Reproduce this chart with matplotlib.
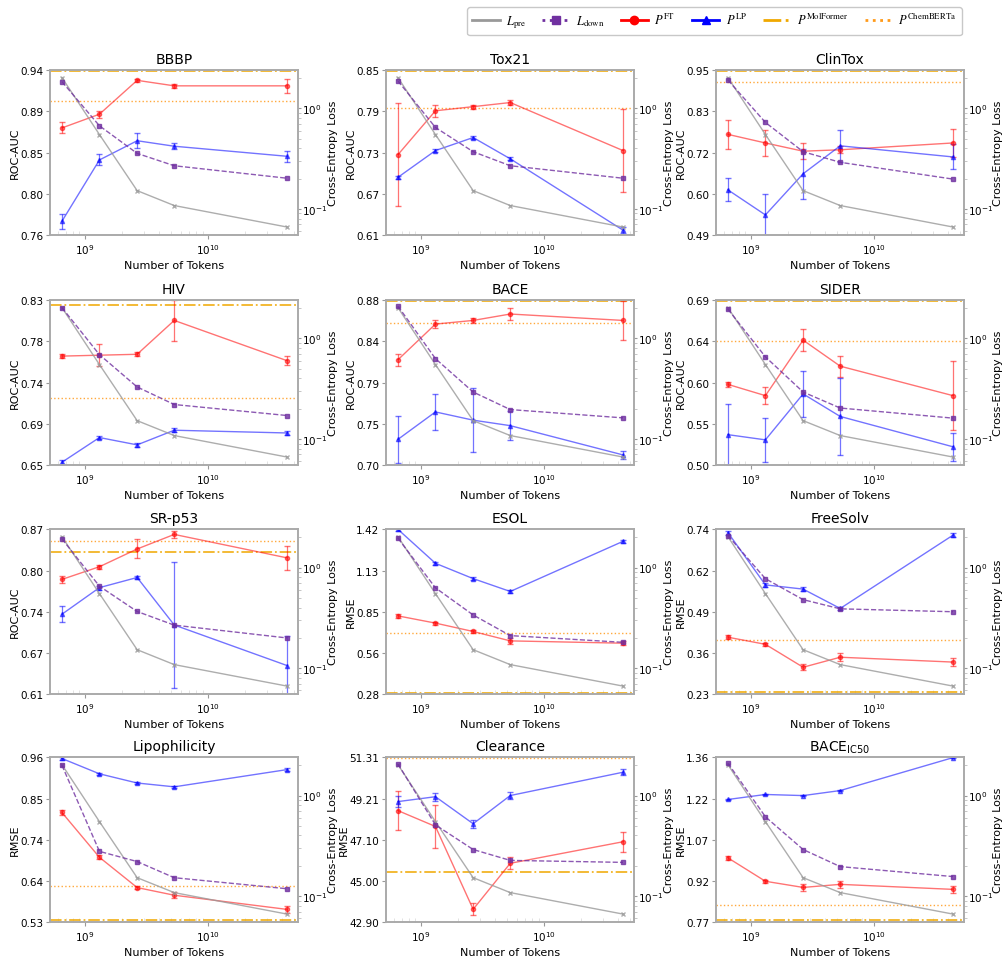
import numpy as np
import matplotlib
matplotlib.use('Agg')
import matplotlib.pyplot as plt
from matplotlib.lines import Line2D
from matplotlib.ticker import FixedLocator, LogLocator, NullFormatter

tokens = [6.5e8, 1.31e9, 2.65e9, 5.3e9, 4.36e10]
l_pre = [2.03, 0.55, 0.152, 0.108, 0.066]

names = ['BBBP', 'Tox21', 'ClinTox', 'HIV', 'BACE', 'SIDER', 'SR-p53', 'ESOL',
         'FreeSolv', 'Lipophilicity', 'Clearance', r'BACE$_{\rm IC50}$']
metric = ['ROC-AUC'] * 7 + ['RMSE'] * 5

tick_labels = [
    ['0.76', '0.80', '0.85', '0.89', '0.94'],
    ['0.61', '0.67', '0.73', '0.79', '0.85'],
    ['0.49', '0.60', '0.72', '0.83', '0.95'],
    ['0.65', '0.69', '0.74', '0.78', '0.83'],
    ['0.70', '0.75', '0.79', '0.84', '0.88'],
    ['0.50', '0.55', '0.60', '0.64', '0.69'],
    ['0.61', '0.67', '0.74', '0.80', '0.87'],
    ['0.28', '0.56', '0.85', '1.13', '1.42'],
    ['0.23', '0.36', '0.49', '0.62', '0.74'],
    ['0.53', '0.64', '0.74', '0.85', '0.96'],
    ['42.90', '45.00', '47.10', '49.21', '51.31'],
    ['0.77', '0.92', '1.07', '1.22', '1.36'],
]

ft = [
    [0.877, 0.892, 0.929, 0.923, 0.923],
    [0.727, 0.791, 0.797, 0.803, 0.733],
    [0.771, 0.747, 0.724, 0.728, 0.747],
    [0.769, 0.770, 0.771, 0.808, 0.764],
    [0.815, 0.854, 0.858, 0.865, 0.858],
    [0.593, 0.580, 0.644, 0.614, 0.580],
    [0.791, 0.811, 0.839, 0.862, 0.825],
    [0.821, 0.771, 0.713, 0.648, 0.632],
    [0.406, 0.384, 0.313, 0.344, 0.329],
    [0.816, 0.699, 0.620, 0.600, 0.563],
    [48.59, 47.78, 43.55, 45.90, 47.00],
    [1.000, 0.916, 0.894, 0.905, 0.887],
]
ft_err = [
    [0.006, 0.004, 0.002, 0.002, 0.008],
    [0.075, 0.009, 0.003, 0.004, 0.060],
    [0.040, 0.037, 0.022, 0.010, 0.038],
    [0.002, 0.012, 0.002, 0.022, 0.005],
    [0.0065, 0.004, 0.003, 0.0067, 0.021],
    [0.003, 0.010, 0.0125, 0.012, 0.040],
    [0.006, 0.003, 0.015, 0.006, 0.019],
    [0.015, 0.010, 0.010, 0.020, 0.015],
    [0.006, 0.005, 0.010, 0.012, 0.012],
    [0.006, 0.005, 0.005, 0.008, 0.010],
    [1.0, 1.1, 0.3, 0.3, 0.5],
    [0.006, 0.006, 0.012, 0.012, 0.012],
]
lp = [
    [0.775, 0.842, 0.863, 0.857, 0.846],
    [0.694, 0.733, 0.752, 0.721, 0.617],
    [0.616, 0.546, 0.661, 0.739, 0.708],
    [0.653, 0.680, 0.672, 0.688, 0.685],
    [0.728, 0.758, 0.749, 0.743, 0.711],
    [0.535, 0.529, 0.582, 0.556, 0.521],
    [0.736, 0.778, 0.794, 0.719, 0.655],
    [1.420, 1.185, 1.079, 0.990, 1.337],
    [0.730, 0.568, 0.555, 0.495, 0.722],
    [0.957, 0.917, 0.893, 0.883, 0.928],
    [49.05, 49.30, 47.92, 49.36, 50.55],
    [1.209, 1.227, 1.223, 1.241, 1.359],
]
lp_err = [
    [0.008, 0.006, 0.008, 0.003, 0.006],
    [0.002, 0.002, 0.002, 0.002, 0.004],
    [0.032, 0.058, 0.070, 0.045, 0.035],
    [0.002, 0.002, 0.002, 0.002, 0.002],
    [0.026, 0.020, 0.035, 0.016, 0.004],
    [0.035, 0.025, 0.027, 0.044, 0.016],
    [0.013, 0.003, 0.003, 0.100, 0.047],
    [0.010, 0.010, 0.010, 0.010, 0.010],
    [0.006, 0.006, 0.006, 0.006, 0.006],
    [0.003, 0.003, 0.003, 0.003, 0.003],
    [0.30, 0.20, 0.20, 0.20, 0.15],
    [0.003, 0.003, 0.003, 0.003, 0.003],
]
l_down = [
    [1.85, 0.672, 0.357, 0.269, 0.202],
    [1.88, 0.647, 0.371, 0.269, 0.202],
    [1.92, 0.726, 0.371, 0.291, 0.198],
    [2.03, 0.690, 0.329, 0.220, 0.171],
    [2.10, 0.630, 0.293, 0.196, 0.162],
    [1.96, 0.656, 0.293, 0.203, 0.161],
    [1.93, 0.652, 0.365, 0.267, 0.199],
    [1.96, 0.628, 0.337, 0.210, 0.180],
    [2.08, 0.774, 0.479, 0.388, 0.363],
    [2.00, 0.278, 0.220, 0.152, 0.118],
    [2.06, 0.510, 0.290, 0.226, 0.216],
    [2.10, 0.614, 0.290, 0.196, 0.156],
]
molformer = [0.9395, 0.8495, 0.949, 0.8245, 0.8795, 0.6895, 0.835, 0.285, 0.236, 0.535, 45.48, 0.776]
chemberta = [0.906, 0.795, 0.918, 0.7228, 0.855, 0.643, 0.852, 0.7015, 0.397, 0.623, 51.28, 0.830]

c_ft = '#ff0000'
c_lp = '#0000ff'
c_down = '#7030a0'
c_pre = '#999999'
c_mf = '#f0a800'
c_cb = '#ff9a1a'

fs = 7.5
fl = 8
fig = plt.figure(figsize=(10.06, 9.62), dpi=100)
lefts = [0.0497, 0.3837, 0.7117]
bottoms = [0.7547, 0.5156, 0.2775, 0.0405]
w, h = 0.2465, 0.1712

for i in range(12):
    r, c = divmod(i, 3)
    ax = fig.add_axes([lefts[c], bottoms[r], w, h])
    ax2 = ax.twinx()

    lo = float(tick_labels[i][0])
    hi = float(tick_labels[i][-1])
    ax.axhline(molformer[i], color=c_mf, ls='-.', lw=1.3, alpha=0.85)
    ax.axhline(chemberta[i], color=c_cb, ls=':', lw=1.0, alpha=0.85)
    ax.errorbar(tokens, ft[i], yerr=ft_err[i], color=c_ft, marker='o', ms=3,
                lw=1, alpha=0.55, capsize=2, elinewidth=0.9)
    ax.errorbar(tokens, lp[i], yerr=lp_err[i], color=c_lp, marker='^', ms=3,
                lw=1, alpha=0.55, capsize=2, elinewidth=0.9)
    ax.set_xscale('log')
    ax.set_xlim(5.2e8, 5.35e10)
    ax.set_ylim(lo, hi)
    ticks = np.linspace(lo, hi, 5)
    ax.yaxis.set_major_locator(FixedLocator(ticks))
    ax.set_yticklabels(tick_labels[i])
    ax.set_xticks([1e9, 1e10])
    ax.set_xticklabels([r'$10^{9}$', r'$10^{10}$'])
    ax.tick_params(axis='both', labelsize=fs, color='#999999', length=3, pad=2)
    ax.tick_params(axis='x', which='minor', color='#dddddd', direction='in', length=3)
    ax.set_xlabel('Number of Tokens', fontsize=fl, labelpad=3)
    ax.set_ylabel(metric[i], fontsize=fl, labelpad=0)
    ax.set_title(names[i], fontsize=10, pad=5)

    ax2.plot(tokens, l_pre, color=c_pre, lw=1, marker='x', ms=2.5, alpha=0.8)
    ax2.plot(tokens, l_down[i], color=c_down, lw=1, ls='--', marker='s', ms=3, alpha=0.8)
    ax2.set_yscale('log')
    ax2.set_ylim(0.055, 2.4)
    ax2.yaxis.set_major_locator(FixedLocator([0.1, 1.0]))
    ax2.yaxis.set_minor_locator(LogLocator(base=10, subs=np.arange(2, 10)))
    ax2.yaxis.set_minor_formatter(NullFormatter())
    ax2.tick_params(axis='y', labelsize=fs, color='#999999', length=2.5, pad=0.5)
    ax2.tick_params(axis='y', which='minor', color='#bbbbbb', length=2)
    ax2.set_ylabel('Cross-Entropy Loss', fontsize=fl, labelpad=0)

    for a in (ax, ax2):
        for s in a.spines.values():
            s.set_color('#aaaaaa')
            s.set_linewidth(1.2)

handles = [
    Line2D([], [], color=c_pre, lw=2),
    Line2D([], [], color=c_down, lw=2, ls=':', marker='s', ms=6),
    Line2D([], [], color=c_ft, lw=2, marker='o', ms=6),
    Line2D([], [], color=c_lp, lw=2, marker='^', ms=6),
    Line2D([], [], color=c_mf, lw=2, ls='-.'),
    Line2D([], [], color=c_cb, lw=2, ls=':'),
]
labels = [r'$L_{\rm pre}$', r'$L_{\rm down}$', r'$P^{\rm FT}$', r'$P^{\rm LP}$',
          r'$P^{\rm MolFormer}$', r'$P^{\rm ChemBERTa}$']
leg = fig.legend(handles, labels, loc='upper right', bbox_to_anchor=(0.962, 0.998),
                 ncol=6, fontsize=9, handlelength=2.2, columnspacing=1.3,
                 handletextpad=0.5, edgecolor='#bbbbbb', fancybox=True)
for t in leg.get_texts():
    t.set_math_fontfamily('stix')

fig.savefig('out.png', dpi=100)
